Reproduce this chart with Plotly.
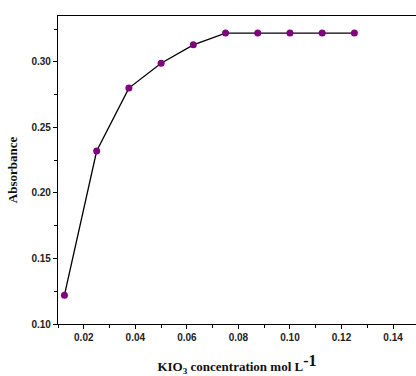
import plotly.graph_objects as go

conc = [0.0125, 0.025, 0.0375, 0.05, 0.0625, 0.075, 0.0875, 0.1, 0.1125, 0.125]
absorbance = [0.122, 0.232, 0.280, 0.299, 0.313, 0.322, 0.322, 0.322, 0.322, 0.322]

fig = go.Figure()
fig.add_trace(go.Scatter(
    x=conc, y=absorbance, mode="lines+markers",
    line=dict(color="black", width=1.3),
    marker=dict(color="#800080", size=7, line=dict(width=0)),
    showlegend=False,
))

tickfont = dict(family="Liberation Sans, Arial", size=10, color="#222", weight="bold")
titlefont = dict(family="Liberation Serif, Times New Roman", size=13, color="#111", weight="bold")

fig.update_layout(
    width=416, height=376,
    margin=dict(l=58, r=0, t=16, b=52),
    plot_bgcolor="white", paper_bgcolor="white",
    xaxis=dict(
        range=[0.01, 0.1489], tickvals=[0.02, 0.04, 0.06, 0.08, 0.10, 0.12, 0.14],
        ticktext=["0.02", "0.04", "0.06", "0.08", "0.10", "0.12", "0.14"],
        ticks="outside", ticklen=4, tickwidth=1, tickcolor="black",
        minor=dict(tickvals=[0.01, 0.03, 0.05, 0.07, 0.09, 0.11, 0.13], ticks="outside", ticklen=3, tickcolor="black"),
        showline=True, linecolor="black", linewidth=1.2, mirror=True,
        showgrid=False, zeroline=False, tickfont=tickfont,
        title=dict(text="KIO<sub>3</sub> concentration mol L<sup><span style='font-size:16px'>-1</span></sup>",
                   font=titlefont, standoff=20),
    ),
    yaxis=dict(
        range=[0.10, 0.335], tickvals=[0.10, 0.15, 0.20, 0.25, 0.30],
        ticktext=["0.10", "0.15", "0.20", "0.25", "0.30"],
        ticks="outside", ticklen=4, tickwidth=1, tickcolor="black",
        minor=dict(tickvals=[0.125, 0.175, 0.225, 0.275, 0.325], ticks="outside", ticklen=3, tickcolor="black"),
        showline=True, linecolor="black", linewidth=1.2, mirror=False,
        showgrid=False, zeroline=False, tickfont=tickfont,
        title=dict(text="Absorbance", font=titlefont, standoff=10),
    ),
)

fig.write_html("out.html")
